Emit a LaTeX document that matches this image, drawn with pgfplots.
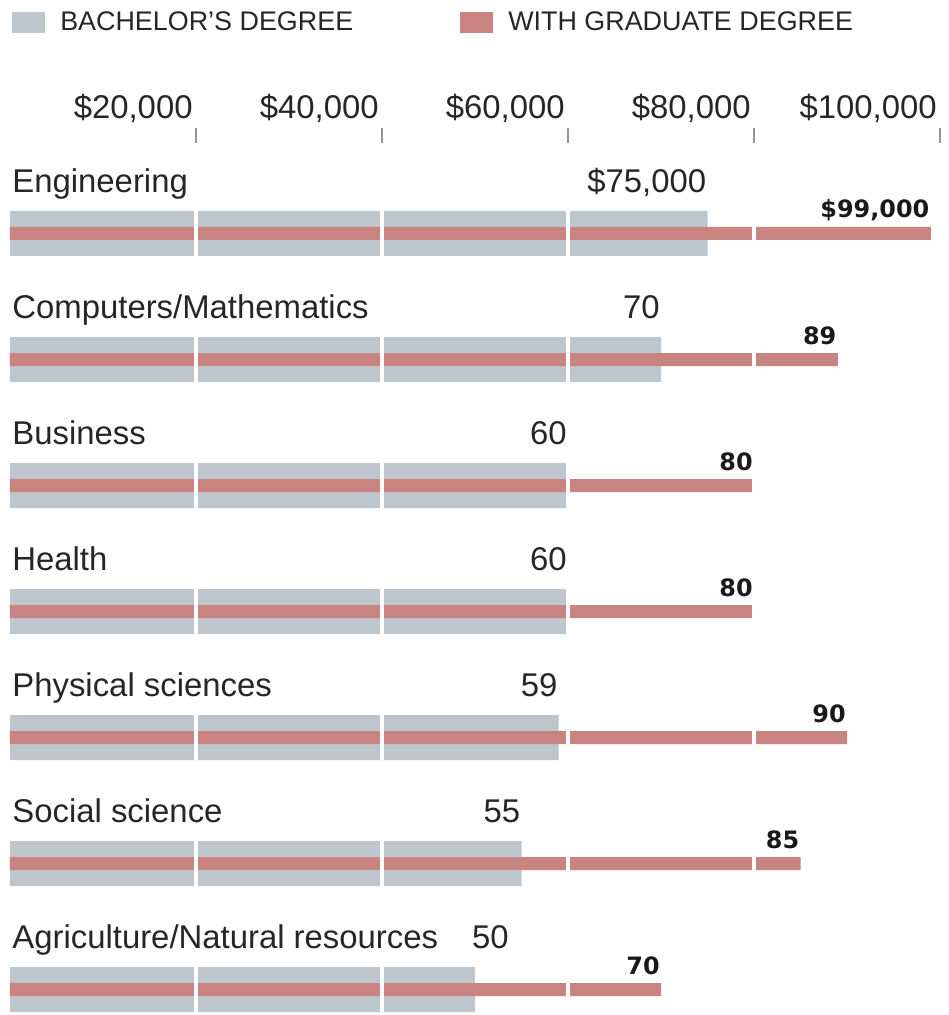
\documentclass[border=0pt]{standalone}
\usepackage{pgfplots}
\pgfplotsset{compat=1.18}
\usepackage{fontspec}
\setmainfont{Liberation Sans}
\newfontfamily\dejavu{DejaVu Sans}

\definecolor{bachgray}{RGB}{189,198,204}
\definecolor{gradred}{RGB}{201,131,128}
\definecolor{txt}{RGB}{38,38,38}
\definecolor{tickgray}{RGB}{150,150,150}

\begin{document}
\begin{tikzpicture}
\begin{axis}[
  x=4.65bp, y=63bp, y dir=reverse,
  xmin=0, xmax=100, ymin=-0.718, ymax=6.2,
  axis x line*=top, axis y line=none,
  x axis line style={draw=none},
  xtick={20,40,60,80,100},
  xticklabels={{\$20,000},{\$40,000},{\$60,000},{\$80,000},{\$100,000}},
  tick align=outside, major tick length=7.5bp,
  tick style={tickgray, line width=0.8bp},
  xticklabel style={anchor=base east, inner sep=0pt, xshift=-1.5bp, yshift=5bp,
    font=\fontsize{16.5}{18}\selectfont, text=txt},
  ytick=\empty,
  clip=false,
  legend columns=2,
  legend style={at={(axis cs:0.2,-1.675)}, anchor=west, draw=none, fill=none,
    inner sep=0pt, font=\fontsize{13.5}{15}\selectfont, text=txt,
    nodes={inner sep=0pt},
    /tikz/every even column/.append style={column sep=53.5bp}},
  legend cell align=left,
]
\addplot[xbar, bar shift=0pt, bar width=22.5bp, fill=bachgray, draw=none,
  legend image code/.code={\fill[bachgray] (0bp,-5.25bp) rectangle (16.5bp,5.25bp); \path (24bp,0bp);}]
  coordinates {(75,0) (70,1) (60,2) (60,3) (59,4) (55,5) (50,6)};
\addlegendentry{BACHELOR’S DEGREE}
\addplot[xbar, bar shift=0pt, bar width=6.5bp, fill=gradred, draw=none,
  legend image code/.code={\fill[gradred] (0bp,-5.25bp) rectangle (16.5bp,5.25bp); \path (24bp,0bp);}]
  coordinates {(99,0) (89,1) (80,2) (80,3) (90,4) (85,5) (70,6)};
\addlegendentry{WITH GRADUATE DEGREE}

% white separators at every $20,000 across the bars
\addplot[only marks, mark=|, mark size=11.25bp, mark options={draw=white, line width=1.6bp}]
  coordinates {(20,0) (40,0) (60,0) (80,0) (20,1) (40,1) (60,1) (80,1)
    (20,2) (40,2) (60,2) (80,2) (20,3) (40,3) (60,3) (80,3)
    (20,4) (40,4) (60,4) (80,4) (20,5) (40,5) (60,5) (80,5)
    (20,6) (40,6) (60,6) (80,6)};

% category names
\addplot[draw=none, nodes near coords, point meta=explicit symbolic,
  nodes near coords style={anchor=base west, inner sep=0pt, xshift=1bp, yshift=20.5bp,
    font=\fontsize{16.5}{18}\selectfont, text=txt}]
  coordinates {(0,0) [Engineering] (0,1) [Computers/Mathematics] (0,2) [Business]
    (0,3) [Health] (0,4) [Physical sciences] (0,5) [Social science]
    (0,6) [Agriculture/Natural resources]};
% bachelor values
\addplot[draw=none, nodes near coords, point meta=explicit symbolic,
  nodes near coords style={anchor=base east, inner sep=0pt, xshift=-0.5bp, yshift=20.5bp,
    font=\fontsize{16.5}{18}\selectfont, text=txt}]
  coordinates {(75,0) [\$75,000] (70,1) [70] (60,2) [60] (60,3) [60] (59,4) [59] (55,5) [55]};
% the last one is pushed right of the long category name
\addplot[draw=none, nodes near coords, point meta=explicit symbolic,
  nodes near coords style={anchor=base east, inner sep=0pt, xshift=17bp, yshift=20.5bp,
    font=\fontsize{16.5}{18}\selectfont, text=txt}]
  coordinates {(50,6) [50]};
% graduate values
\addplot[draw=none, nodes near coords, point meta=explicit symbolic,
  nodes near coords style={anchor=base east, inner sep=0pt, xshift=-0.5bp, yshift=7.75bp,
    font=\dejavu\bfseries\fontsize{12}{14}\selectfont, text=black!90}]
  coordinates {(99,0) [\$99,000] (89,1) [89] (80,2) [80] (80,3) [80] (90,4) [90] (85,5) [85] (70,6) [70]};

\path (axis cs:-1.075,-1.853) rectangle (axis cs:100.86,6.202);
\end{axis}
\end{tikzpicture}
\end{document}
